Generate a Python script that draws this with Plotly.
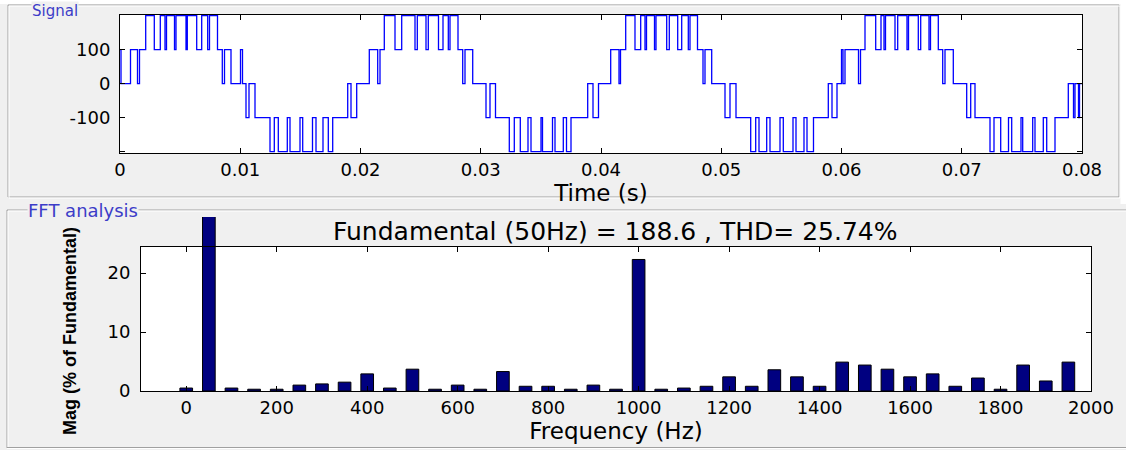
import plotly.graph_objects as go

# ---------------- data ----------------
# switching instants of the inverter output (ms) and the level held from that instant
signal_time_ms = [
    0.000, 0.083, 0.873, 1.455, 1.622, 2.137, 2.852, 3.351, 3.742, 3.867, 4.532, 4.657,
    5.489, 5.597, 6.378, 6.794, 7.293, 7.443, 8.108, 8.507, 8.690, 9.231, 10.021, 10.187,
    10.478, 10.728, 11.227, 12.474, 12.832, 13.164, 13.913, 14.137, 14.969, 15.193, 16.008,
    16.299, 16.881, 17.322, 17.688, 18.936, 19.210, 19.684,
    20.732, 21.430, 21.622, 21.979, 22.869, 23.426, 24.532, 24.724, 25.447, 25.638, 26.486,
    26.861, 27.302, 27.443, 28.108, 28.499, 28.690, 29.331, 30.437, 30.769, 31.227, 32.374,
    32.790, 33.289, 33.929, 34.179, 35.010, 35.135, 35.967, 36.175, 36.865, 37.131, 37.505,
    38.894, 39.335, 39.792,
    40.806, 41.497, 41.622, 42.054, 42.827, 43.301, 43.659, 43.784, 44.449, 44.574, 45.464,
    45.680, 46.378, 46.711, 47.260, 47.401, 48.025, 48.482, 48.649, 49.206, 50.312, 50.728,
    51.227, 52.449, 52.865, 53.139, 53.780, 54.054, 54.886, 55.160, 55.967, 56.216, 56.881,
    57.131, 57.671, 58.902, 59.210, 59.626,
    60.000, 60.125, 60.291, 61.414, 61.580, 61.954, 62.844, 63.285, 63.534, 63.659, 64.449,
    64.674, 65.447, 65.572, 66.387, 66.586, 67.276, 67.401, 68.050, 68.416, 68.607, 69.297,
    70.411, 70.744, 71.102, 72.349, 72.682, 73.239, 73.888, 74.154, 74.927, 75.069, 75.900,
    76.091, 76.782, 77.065, 77.755, 78.861, 79.293, 79.418, 79.709, 79.793, 80.000,
]
signal_level = [
    100, 0, 100, 0, 100, 200, 100, 200, 100, 200, 100, 200,
    100, 200, 100, 200, 100, 200, 100, 0, 100, 0, 100, 0,
    -100, 0, -100, -200, -100, -200, -100, -200, -100, -200, -100,
    -200, -100, -200, -100, 0, -100, 0,
    100, 0, 100, 200, 100, 200, 100, 200, 100, 200, 100,
    200, 100, 200, 100, 0, 100, 0, -100, 0, -100, -200,
    -100, -200, -100, -200, -100, -200, -100, -200, -100, -200, -100,
    0, -100, 0,
    100, 0, 100, 200, 100, 200, 100, 200, 100, 200, 100,
    200, 100, 200, 100, 200, 100, 0, 100, 0, -100, 0,
    -100, -200, -100, -200, -100, -200, -100, -200, -100, -200, -100,
    -200, -100, 0, -100, 0,
    100, 0, 100, 0, 100, 200, 100, 200, 100, 200, 100,
    200, 100, 200, 100, 200, 100, 200, 100, 0, 100, 0,
    -100, 0, -100, -200, -100, -200, -100, -200, -100, -200, -100,
    -200, -100, -200, -100, 0, -100, 0, -100, 0, 0,
]

freq_hz = [0, 50, 100, 150, 200, 250, 300, 350, 400, 450, 500, 550, 600, 650, 700, 750,
           800, 850, 900, 950, 1000, 1050, 1100, 1150, 1200, 1250, 1300, 1350, 1400, 1450,
           1500, 1550, 1600, 1650, 1700, 1750, 1800, 1850, 1900, 1950]
mag_pct = [0.5, 100, 0.5, 0.3, 0.3, 1.0, 1.2, 1.5, 2.9, 0.5, 3.7, 0.3, 1.0, 0.3, 3.3, 0.8,
           0.8, 0.3, 1.0, 0.3, 22.3, 0.3, 0.5, 0.8, 2.4, 0.8, 3.6, 2.4, 0.8, 4.9,
           4.4, 3.7, 2.4, 2.9, 0.8, 2.2, 0.3, 4.4, 1.7, 4.9]

time_ticks = [0, 0.01, 0.02, 0.03, 0.04, 0.05, 0.06, 0.07, 0.08]
time_tick_text = ["0", "0.01", "0.02", "0.03", "0.04", "0.05", "0.06", "0.07", "0.08"]
sig_ticks = [-200, -100, 0, 100, 200]
sig_tick_text = ["", "-100", "0", "100", ""]
freq_ticks = [0, 200, 400, 600, 800, 1000, 1200, 1400, 1600, 1800, 2000]
mag_ticks = [0, 10, 20]
fft_title = "Fundamental (50Hz) = 188.6 , THD= 25.74%"
mag_title = "Mag (% of Fundamental)"

# ---------------- layout helpers ----------------
W, H = 1126, 450
def fx(p):
    return min(max(p / W, 0.0), 1.0)
def fy(p):
    return min(max(1 - p / H, 0.0), 1.0)

FONT = "DejaVu Sans"
PANEL = "#f0f0f0"
LABEL_BLUE = "#3c3cc8"
MAG_VISIBLE_TOP = 24.41

signal_time_s = [t / 1000.0 for t in signal_time_ms]

fig = go.Figure()
fig.add_trace(go.Scatter(
    x=signal_time_s, y=signal_level, mode="lines", line=dict(color="#0000ff", width=1.3, shape="hv"),
    xaxis="x", yaxis="y", showlegend=False, hoverinfo="skip"))
fig.add_trace(go.Bar(
    x=freq_hz, y=mag_pct, width=28, marker=dict(color="#000080", line=dict(color="black", width=1)),
    xaxis="x2", yaxis="y2", showlegend=False, hoverinfo="skip"))
fig.add_trace(go.Scatter(x=[], y=[], xaxis="x3", yaxis="y3", showlegend=False, hoverinfo="skip"))

tickfont = dict(family=FONT, size=18, color="black")
titlefont = dict(family=FONT, size=23, color="black")
common = dict(showgrid=False, zeroline=False, showline=True, linecolor="black", linewidth=1,
              mirror="ticks", ticks="inside", ticklen=5, tickcolor="black", tickfont=tickfont,
              automargin=False)

fig.update_layout(
    template="none",
    width=W, height=H, margin=dict(l=0, r=0, t=0, b=0, pad=0, autoexpand=False),
    paper_bgcolor=PANEL, plot_bgcolor="rgba(0,0,0,0)", showlegend=False,
    xaxis=dict(domain=[fx(120), fx(1082)], range=[0, 0.08], anchor="y",
               tickvals=time_ticks, ticktext=time_tick_text,
               title=dict(text="Time (s)", font=titlefont, standoff=0), **common),
    yaxis=dict(domain=[fy(153), fy(15)], range=[-204, 202], anchor="x",
               tickvals=sig_ticks, ticktext=sig_tick_text, ticklabelstandoff=5, **common),
    xaxis2=dict(domain=[fx(141), fx(1091)], range=[-100, 2000], anchor="y2", visible=False,
                automargin=False),
    yaxis2=dict(domain=[fy(391), fy(217)], range=[0, 29.5], anchor="x2", visible=False,
                automargin=False),
    xaxis3=dict(domain=[fx(141), fx(1091)], range=[-100, 2000], anchor="y3",
                tickvals=freq_ticks,
                title=dict(text="Frequency (Hz)", font=titlefont, standoff=4), **common),
    yaxis3=dict(domain=[fy(391), fy(247)], range=[0, MAG_VISIBLE_TOP], anchor="x3",
                tickvals=mag_ticks, ticklabelstandoff=6, **common),
)

def hline(y, x0, x1, color):
    return dict(type="line", xref="paper", yref="paper", x0=fx(x0), x1=fx(x1), y0=fy(y), y1=fy(y),
                line=dict(color=color, width=1), layer="below")

def vline(x, y0, y1, color):
    return dict(type="line", xref="paper", yref="paper", x0=fx(x), x1=fx(x), y0=fy(y0), y1=fy(y1),
                line=dict(color=color, width=1), layer="below")

shapes = [
    # white page outside the panels
    dict(type="rect", xref="paper", yref="paper", x0=0, x1=1, y0=fy(4), y1=1,
         fillcolor="white", line=dict(width=0), layer="below"),
    dict(type="rect", xref="paper", yref="paper", x0=fx(1120.5), x1=1, y0=fy(204), y1=1,
         fillcolor="white", line=dict(width=0), layer="below"),
    # etched group box "Signal"
    dict(type="rect", xref="paper", yref="paper", x0=fx(8), x1=fx(1119), y0=fy(197), y1=fy(5),
         line=dict(color="#a0a0a0", width=1), layer="below"),
    dict(type="rect", xref="paper", yref="paper", x0=fx(9), x1=fx(1120), y0=fy(198), y1=fy(6),
         line=dict(color="white", width=1), layer="below"),
    # etched group box "FFT analysis" (open to the right edge)
    hline(210, 7, W, "#a0a0a0"), hline(211, 8, W, "white"),
    vline(7, 210, 448, "#a0a0a0"), vline(8, 211, 447, "white"),
    hline(447.5, 7, W, "#a0a0a0"), hline(448.5, 7, W, "white"),
    # white axes backgrounds
    dict(type="rect", xref="x domain", yref="y domain", x0=0, x1=1, y0=0, y1=1,
         fillcolor="white", line=dict(width=0), layer="below"),
    dict(type="rect", xref="x2 domain", yref="y2", x0=0, x1=1, y0=0, y1=MAG_VISIBLE_TOP,
         fillcolor="white", line=dict(width=0), layer="below"),
]
fig.update_layout(shapes=shapes)

fig.add_annotation(text="Signal", xref="paper", yref="paper", x=fx(31), y=fy(1),
                   xanchor="left", yanchor="top", showarrow=False, bgcolor=PANEL,
                   font=dict(family=FONT, size=15, color=LABEL_BLUE), borderpad=0)
fig.add_annotation(text="FFT analysis", xref="paper", yref="paper", x=fx(27), y=fy(210),
                   xanchor="left", yanchor="middle", showarrow=False, bgcolor=PANEL,
                   font=dict(family=FONT, size=18, color=LABEL_BLUE), borderpad=0)
fig.add_annotation(text=fft_title, xref="paper", yref="paper", x=fx(616), y=fy(231),
                   xanchor="center", yanchor="middle", showarrow=False,
                   font=dict(family=FONT, size=25, color="black"))
fig.add_annotation(text="<b>" + mag_title + "</b>", xref="paper", yref="paper",
                   x=fx(70), y=fy(331), textangle=-90, xanchor="center", yanchor="middle",
                   showarrow=False, font=dict(family="Liberation Sans", size=18, color="black"))

fig.write_html("out.html", config={"displayModeBar": False},
               post_script="document.body.style.margin='0';document.body.style.overflow='hidden';")
